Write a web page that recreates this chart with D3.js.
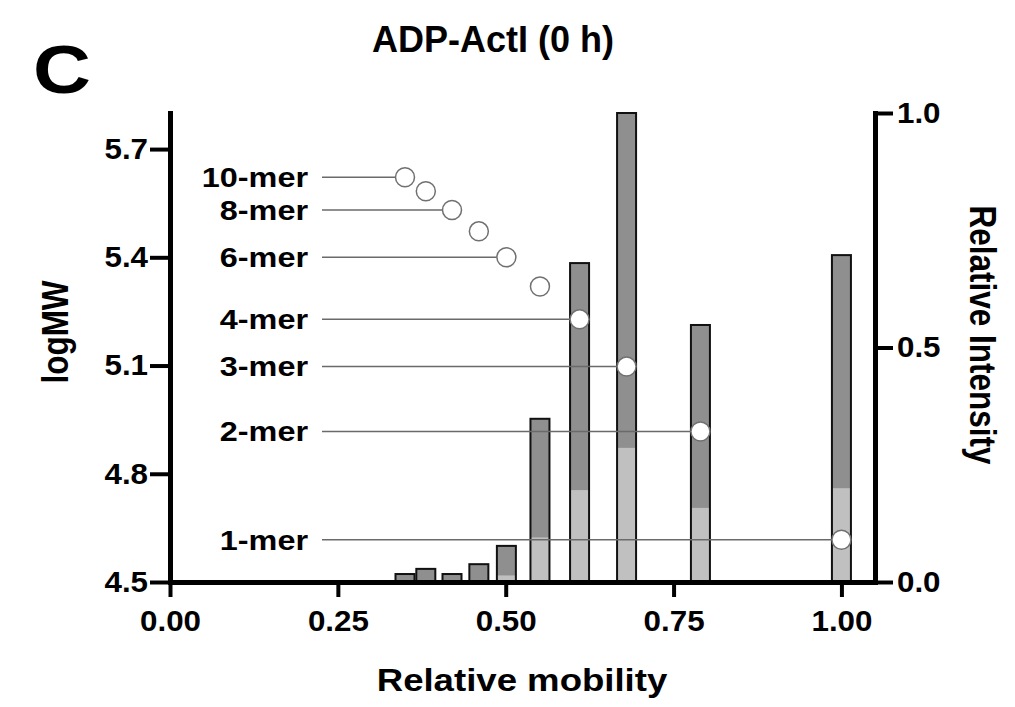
<!doctype html>
<html>
<head>
<script src="https://d3js.org/d3.v7.min.js"></script>
<style>
body { margin: 0; background: #fff; }
svg text { font-family: "Liberation Sans", Arial, Helvetica, sans-serif; font-weight: bold; fill: #000; }
</style>
</head>
<body>
<svg width="1015" height="707" class="chart"></svg>
<script>
// oligomer ladder (circles, left axis) and band intensities (bars, right axis)
var merLabels   = ["1-mer", "2-mer", "3-mer", "4-mer", "5-mer", "6-mer", "7-mer", "8-mer", "9-mer", "10-mer"];
var showLabel   = [true, true, true, true, false, true, false, true, false, true];
var mobility    = [1.00, 0.79, 0.68, 0.61, 0.551, 0.501, 0.46, 0.42, 0.381, 0.35];
var logMW       = [4.617, 4.917, 5.097, 5.228, 5.319, 5.400, 5.472, 5.531, 5.583, 5.622];
var intensity   = [0.697, 0.548, 1.00, 0.680, 0.348, 0.077, 0.038, 0.017, 0.028, 0.017];
var lightPart   = [0.200, 0.158, 0.286, 0.196, 0.095, 0.014, 0, 0, 0, 0];

var xTicks  = [0, 0.25, 0.5, 0.75, 1.0];
var yTicksL = [4.5, 4.8, 5.1, 5.4, 5.7];
var yTicksR = [0, 0.5, 1.0];

var svg = d3.select(".chart");
var plotLeft = 170, plotRight = 875, plotTop = 113, plotBottom = 582;
var SX = 1.18;   // the original figure is a bit stretched sideways

var xScale = d3.scaleLinear().domain([0, 1.05]).range([plotLeft, plotRight]),
    yMW    = d3.scaleLinear().domain([4.5, 5.8]).range([plotBottom, plotTop]),
    yInt   = d3.scaleLinear().domain([0, 1]).range([plotBottom, plotTop]);

var barW = 19, r = 9.5;
var idx = d3.range(mobility.length);

// bars: dark total, light lower part, black outline
var bars = svg.append("g");
bars.selectAll(".dark").data(idx).enter().append("rect")
    .attr("x", function(i) { return xScale(mobility[i]) - barW / 2; })
    .attr("y", function(i) { return yInt(intensity[i]); })
    .attr("width", barW)
    .attr("height", function(i) { return plotBottom - yInt(intensity[i]); })
    .style("fill", "#8f8f8f");
bars.selectAll(".light").data(idx.filter(function(i) { return lightPart[i] > 0; })).enter().append("rect")
    .attr("x", function(i) { return xScale(mobility[i]) - barW / 2; })
    .attr("y", function(i) { return yInt(lightPart[i]); })
    .attr("width", barW)
    .attr("height", function(i) { return plotBottom - yInt(lightPart[i]); })
    .style("fill", "#c0c0c0");
bars.selectAll(".outline").data(idx).enter().append("rect")
    .attr("x", function(i) { return xScale(mobility[i]) - barW / 2; })
    .attr("y", function(i) { return yInt(intensity[i]); })
    .attr("width", barW)
    .attr("height", function(i) { return plotBottom - yInt(intensity[i]); })
    .style("fill", "none")
    .style("stroke", "#111")
    .style("stroke-width", 2);

// leader lines from labels to circles
var labelled = idx.filter(function(i) { return showLabel[i]; });
svg.append("g").selectAll("line").data(labelled).enter().append("line")
    .attr("x1", 322)
    .attr("x2", function(i) { return xScale(mobility[i]) - r; })
    .attr("y1", function(i) { return yMW(logMW[i]); })
    .attr("y2", function(i) { return yMW(logMW[i]); })
    .style("stroke", "#6a6a6a")
    .style("stroke-width", 1.5);

svg.append("g").selectAll("circle").data(idx).enter().append("circle")
    .attr("cx", function(i) { return xScale(mobility[i]); })
    .attr("cy", function(i) { return yMW(logMW[i]); })
    .attr("r", r)
    .style("fill", "#fff")
    .style("stroke", "#707070")
    .style("stroke-width", 1.5);

// mer labels
svg.append("g").selectAll("text").data(labelled).enter().append("text")
    .attr("transform", function(i) { return "translate(308," + yMW(logMW[i]) + ") scale(1.2,1)"; })
    .attr("dy", "0.36em")
    .attr("text-anchor", "end")
    .attr("font-size", 27)
    .text(function(i) { return merLabels[i]; });

// axes
function styleAxis(g, xShift, sx) {
    g.attr("font-family", null).attr("font-size", 29);
    g.select(".domain").attr("stroke-width", 5).attr("stroke-linecap", "square");
    g.selectAll(".tick line").attr("stroke-width", 4);
    g.selectAll(".tick text").attr("transform", "scale(" + sx + ",1)");
    if (xShift) g.selectAll(".tick text").attr("x", xShift / sx);
}

var gx = svg.append("g")
    .attr("transform", "translate(0," + plotBottom + ")")
    .call(d3.axisBottom(xScale).tickValues(xTicks).tickFormat(d3.format(".2f"))
        .tickSize(15).tickSizeOuter(0).tickPadding(13));
styleAxis(gx, 0, 1.08);

var gl = svg.append("g")
    .attr("transform", "translate(" + plotLeft + ",0)")
    .call(d3.axisLeft(yMW).tickValues(yTicksL).tickFormat(d3.format(".1f"))
        .tickSize(20).tickSizeOuter(0).tickPadding(2));
styleAxis(gl, -22, 1.08);

var gr = svg.append("g")
    .attr("transform", "translate(" + plotRight + ",0)")
    .call(d3.axisRight(yInt).tickValues(yTicksR).tickFormat(d3.format(".1f"))
        .tickSize(18).tickSizeOuter(0).tickPadding(4));
styleAxis(gr, 22, 1.08);

// titles
function addText(x, y, str, size, anchor, sx, rot) {
    svg.append("text")
        .attr("transform", "translate(" + x + "," + y + ") scale(" + sx + ",1)" + (rot ? " rotate(" + rot + ")" : ""))
        .attr("text-anchor", anchor)
        .attr("font-size", size)
        .text(str);
}
addText(493, 52, "ADP-ActI (0 h)", 36, "middle", 1.0);
addText(33, 93, "C", 68, "start", 1.18);
addText(68, 332, "logMW", 31.5, "middle", SX, -90);
addText(970, 335, "Relative Intensity", 31.5, "middle", SX, 90);
addText(522, 691, "Relative mobility", 31, "middle", SX);
</script>
</body>
</html>
